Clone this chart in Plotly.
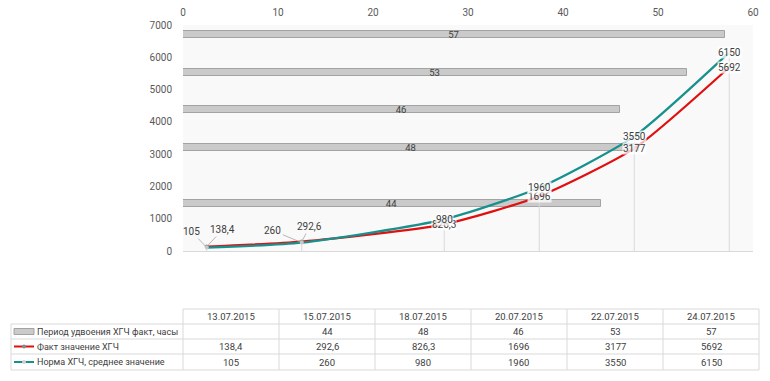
import plotly.graph_objects as go

# ---------------- data ----------------
dates = ['2015-07-13', '2015-07-15', '2015-07-18', '2015-07-20', '2015-07-22', '2015-07-24']
date_labels = ['13.07.2015', '15.07.2015', '18.07.2015', '20.07.2015', '22.07.2015', '24.07.2015']
period_hours = [None, 44, 48, 46, 53, 57]
fact_hcg = [138.4, 292.6, 826.3, 1696, 3177, 5692]
norm_hcg = [105, 260, 980, 1960, 3550, 6150]

name_period = 'Период удвоения ХГЧ факт, часы'
name_fact = 'Факт значение ХГЧ'
name_norm = 'Норма ХГЧ, среднее значение'

# ---------------- style ----------------
FONT = 'Roboto'
FS = 9.5
TXT = '#404040'
AX = '#595959'
GRID = '#d9d9d9'
RED = '#e01010'
TEAL = '#17918e'
BAR_FILL = '#cacaca'
BAR_LINE = '#a3a3a3'

OFF = 8                      # page body margin of the html page
W, H = 770 - OFF, 381 - OFF
L, T = 183 - OFF, 25 - OFF
R = W - (753 - OFF)
B = H - (251 - OFF)
PW, PH = W - L - R, H - T - B


def fmt(v):
    if v is None:
        return ''
    if float(v).is_integer():
        return str(int(v))
    return str(v).replace('.', ',')


def px(xp):          # page pixel -> paper x
    return (xp - OFF - L) / PW


def py(yp):          # page pixel -> paper y
    return (T + PH - (yp - OFF)) / PH


fig = go.Figure()

# bars (horizontal, top axis 0..60, date axis on the vertical)
fig.add_trace(go.Bar(
    x=period_hours, y=dates, orientation='h', xaxis='x', yaxis='y',
    width=0.37 * 86400000,
    marker=dict(color=BAR_FILL, line=dict(color=BAR_LINE, width=1)),
    text=[fmt(v) for v in period_hours], textposition='inside', textangle=0,
    insidetextanchor='middle', constraintext='none',
    textfont=dict(family=FONT, size=FS, color=TXT),
    hoverinfo='skip', name=name_period,
))

# drop lines
dx, dy = [], []
for d, a, b in zip(dates, fact_hcg, norm_hcg):
    dx += [d, d, None]
    dy += [0, max(a, b), None]
fig.add_trace(go.Scatter(x=dx, y=dy, mode='lines', xaxis='x2', yaxis='y2',
                         line=dict(color=GRID, width=1), hoverinfo='skip'))

fig.add_trace(go.Scatter(
    x=dates, y=fact_hcg, mode='lines+markers', xaxis='x2', yaxis='y2', name=name_fact,
    line=dict(color=RED, width=2.25, shape='spline', smoothing=0.6),
    marker=dict(size=4, color='#9a9a9a'),
))
fig.add_trace(go.Scatter(
    x=dates, y=norm_hcg, mode='lines+markers', xaxis='x2', yaxis='y2', name=name_norm,
    line=dict(color=TEAL, width=2.25, shape='spline', smoothing=0.6),
    marker=dict(size=4, color='#c8c8c8'),
))

# data labels
ann = []
fact_offsets = {0: (16, -17), 1: (8, -15)}
norm_offsets = {0: (-15, -16), 1: (-29, -12)}
for series, offs in ((fact_hcg, fact_offsets), (norm_hcg, norm_offsets)):
    for i, (d, v) in enumerate(zip(dates, series)):
        if i in offs:
            ax, ay = offs[i]
            ann.append(dict(x=d, y=v, xref='x2', yref='y2', text=fmt(v), showarrow=True,
                            ax=ax, ay=ay, arrowhead=0, arrowwidth=0.8, arrowcolor='#a6a6a6',
                            standoff=2, font=dict(family=FONT, size=FS + 0.5, color=TXT)))
        else:
            ann.append(dict(x=d, y=v, xref='x2', yref='y2', text=fmt(v), showarrow=False,
                            bgcolor='rgba(255,255,255,0.75)', borderpad=0,
                            font=dict(family=FONT, size=FS + 0.5, color=TXT)))

# ---------------- data table (below chart) ----------------
shapes = []
tx0, tcol0, cw = 11, 183, 96
rows_y = [309, 324, 339, 354, 370]
tright = tcol0 + cw * len(dates)


def hline(x0, x1, y):
    shapes.append(dict(type='line', xref='paper', yref='paper', x0=px(x0), x1=px(x1),
                       y0=py(y), y1=py(y), line=dict(color=GRID, width=1)))


def vline(x, y0, y1):
    shapes.append(dict(type='line', xref='paper', yref='paper', x0=px(x), x1=px(x),
                       y0=py(y0), y1=py(y1), line=dict(color=GRID, width=1)))


hline(tcol0, tright, rows_y[0])
for y in rows_y[1:]:
    hline(tx0, tright, y)
vline(tx0, rows_y[1], rows_y[-1])
for k in range(len(dates) + 1):
    vline(tcol0 + cw * k, rows_y[0], rows_y[-1])

row_vals = [date_labels, [fmt(v) for v in period_hours], [fmt(v) for v in fact_hcg],
            [fmt(v) for v in norm_hcg]]
for r, vals in enumerate(row_vals):
    yc = (rows_y[r] + rows_y[r + 1]) / 2
    for k, s in enumerate(vals):
        ann.append(dict(x=px(tcol0 + cw * k + cw / 2), y=py(yc), xref='paper', yref='paper',
                        text=s, showarrow=False, xanchor='center', yanchor='middle',
                        font=dict(family=FONT, size=FS, color=TXT)))

for r, nm in enumerate([name_period, name_fact, name_norm]):
    yc = (rows_y[r + 1] + rows_y[r + 2]) / 2
    ann.append(dict(x=px(35), y=py(yc), xref='paper', yref='paper', text=nm, showarrow=False,
                    xanchor='left', yanchor='middle', font=dict(family=FONT, size=9, color=TXT)))

# legend keys
y1 = (rows_y[1] + rows_y[2]) / 2
shapes.append(dict(type='rect', xref='paper', yref='paper', x0=px(14), x1=px(34),
                   y0=py(y1 - 3), y1=py(y1 + 3), fillcolor=BAR_FILL,
                   line=dict(color=BAR_LINE, width=1)))
for r, col, mc in ((2, RED, '#8a8a8a'), (3, TEAL, '#d0d0d0')):
    yc = (rows_y[r] + rows_y[r + 1]) / 2
    shapes.append(dict(type='line', xref='paper', yref='paper', x0=px(14), x1=px(34),
                       y0=py(yc), y1=py(yc), line=dict(color=col, width=2)))
    shapes.append(dict(type='circle', xref='paper', yref='paper', x0=px(22), x1=px(26),
                       y0=py(yc - 2), y1=py(yc + 2), fillcolor=mc, line=dict(color=mc, width=0)))

fig.update_layout(
    width=W, height=H,
    margin=dict(l=L, r=R, t=T, b=B, autoexpand=False),
    paper_bgcolor='white', plot_bgcolor='#f9f9f9',
    showlegend=False,
    bargap=0,
    font=dict(family=FONT, size=FS, color=AX),
    xaxis=dict(type='linear', range=[0, 60], dtick=10, side='top', showgrid=False,
               zeroline=False, showline=False, ticks='outside', ticklen=4,
               tickcolor='rgba(0,0,0,0)', tickfont=dict(family=FONT, size=FS + 0.5, color=AX),
               fixedrange=True, automargin=False),
    yaxis=dict(type='date', range=['2015-07-12 12:00', '2015-07-24 12:00'], visible=False,
               fixedrange=True, automargin=False),
    xaxis2=dict(type='date', range=['2015-07-12 12:00', '2015-07-24 12:00'], overlaying='x',
                side='bottom', anchor='y2', showticklabels=False, showgrid=False,
                zeroline=False, showline=True, linecolor=GRID, linewidth=1, ticks='',
                automargin=False),
    yaxis2=dict(range=[0, 7000], dtick=1000, overlaying='y', side='left', showgrid=False,
                zeroline=False, showline=False, ticks='outside', ticklen=8,
                tickcolor='rgba(0,0,0,0)', tickfont=dict(family=FONT, size=FS + 0.5, color=AX),
                automargin=False),
    shapes=shapes,
    annotations=ann,
)

fig.write_html('out.html')
